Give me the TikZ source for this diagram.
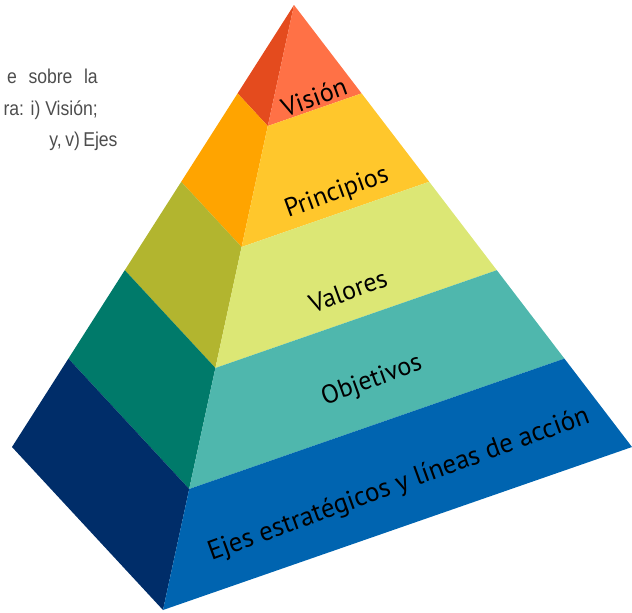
\documentclass[tikz,border=0pt]{standalone}
\usepackage{fontspec}
\setmainfont{PT Sans}
\newfontfamily\grayfont{Liberation Sans}
\usetikzlibrary{calc}
\definecolor{visF}{HTML}{FF7146}
\definecolor{visL}{HTML}{E44B1E}
\definecolor{priF}{HTML}{FFC72C}
\definecolor{priL}{HTML}{FFA400}
\definecolor{valF}{HTML}{DCE775}
\definecolor{valL}{HTML}{B2B52F}
\definecolor{objF}{HTML}{4FB7AD}
\definecolor{objL}{HTML}{007A6A}
\definecolor{ejeF}{HTML}{0064B0}
\definecolor{ejeL}{HTML}{002D69}
\definecolor{bodygray}{HTML}{4D4D4D}
\tikzset{
  layerlabel/.style={rotate=20, inner sep=0pt, text=black, anchor=center,
    font=\fontsize{26}{28}\selectfont},
  sidetext/.style={inner sep=0pt, anchor=base east, text=bodygray,
    font=\grayfont\fontsize{20}{22}\selectfont}
}
\begin{document}
\begin{tikzpicture}[x=1pt,y=-1pt]
\useasboundingbox (0,0) rectangle (632,613);
\clip (0,0) rectangle (632,613);
% side text
\node[sidetext] (t1) at (98,83) {\scalebox{0.88}[1]{\makebox[103pt][s]{e sobre la}}};
\node[sidetext] (t2) at (98,115) {\scalebox{0.88}[1]{ra: i) Visión;}};
\node[sidetext] (t3) at (98,146) {\scalebox{0.88}[1]{\makebox[55pt][s]{y, v) Ejes}}};
% pyramid
\coordinate (A) at (294,5);
\coordinate (L) at (12,447);
\coordinate (F) at (163,610);
\coordinate (R) at (632,447);
\foreach \k/\fc/\lc in {1/visF/visL, 2/priF/priL, 3/valF/valL, 4/objF/objL, 5/ejeF/ejeL}{
  \pgfmathsetmacro\a{(\k-1)/5}
  \pgfmathsetmacro\b{\k/5}
  \fill[\lc] ($(A)!\a!(L)$) -- ($(A)!\b!(L)$) -- ($(A)!\b!(F)$) -- ($(A)!\a!(F)$) -- cycle;
  \fill[\fc] ($(A)!\a!(F)$) -- ($(A)!\b!(F)$) -- ($(A)!\b!(R)$) -- ($(A)!\a!(R)$) -- cycle;
}
% labels
\node[layerlabel] (vis) at (314,97) {Visión};
\node[layerlabel] (pri) at (337,193) {Principios};
\node[layerlabel] (val) at (348,291) {Valores};
\node[layerlabel] (obj) at (372,381) {Objetivos};
\node[layerlabel, font=\fontsize{27}{29}\selectfont] (eje) at (399,485) {Ejes estratégicos y líneas de acción};
\end{tikzpicture}
\end{document}
